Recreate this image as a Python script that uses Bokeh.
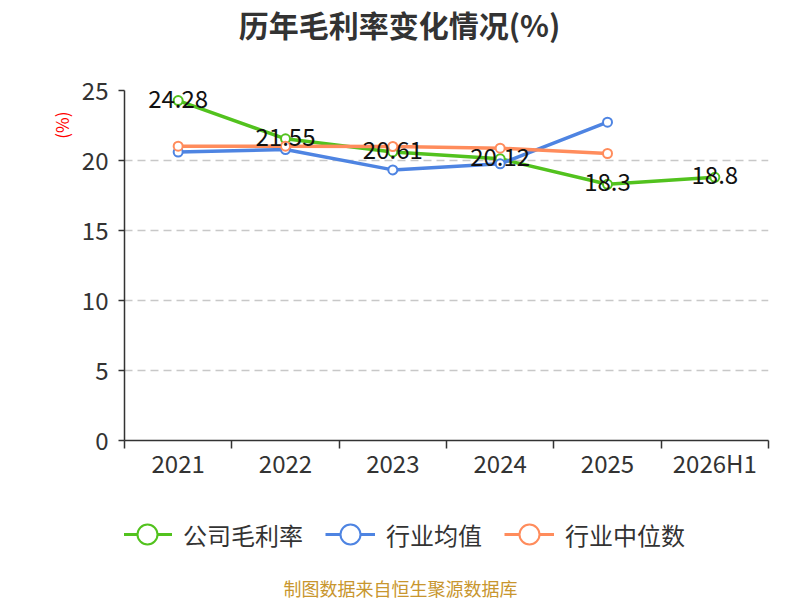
import math
from bokeh.plotting import figure
from bokeh.layouts import column
from bokeh.models import (ColumnDataSource, FixedTicker, Label, Legend, LegendItem, Title)
from bokeh.core.properties import value
from bokeh.embed import file_html
from bokeh.resources import INLINE

# ---- data ----
years = ["2021", "2022", "2023", "2024", "2025", "2026H1"]
company = [24.28, 21.55, 20.61, 20.12, 18.3, 18.8]
industry_avg = [20.6, 20.78, 19.33, 19.76, 22.74]
industry_median = [21.02, 21.02, 21.0, 20.88, 20.5]
series_names = ["公司毛利率", "行业均值", "行业中位数"]
title_text = "历年毛利率变化情况(%)"
unit_text = "(%)"
footer_text = "制图数据来自恒生聚源数据库"
y_ticks = [0, 5, 10, 15, 20, 25]

FONT = "Noto Sans CJK SC"
GREEN = "#52C21E"
BLUE = "#4E84E2"
ORANGE = "#FF8C5C"
COLORS = [GREEN, BLUE, ORANGE]
W = 796
FRAME_LEFT = 124  # frames of the stacked figures are aligned with the main chart's frame


def blank_fig(h):
    f = figure(width=W, height=h, x_range=(0, 1), y_range=(0, 1),
               output_backend="svg", toolbar_location=None,
               x_axis_location=None, y_axis_location=None,
               min_border_left=0, min_border_right=0, min_border_top=0, min_border_bottom=0)
    f.outline_line_color = None
    f.xgrid.visible = False
    f.ygrid.visible = False
    return f


# ---- title strip ----
top = blank_fig(70)
top.add_layout(Label(x=399 - FRAME_LEFT, y=47, x_units="screen", y_units="screen", text=title_text,
                     text_font=FONT, text_font_size="30px", text_font_style="bold",
                     text_color="#333333", text_align="center", text_baseline="middle"))

# ---- main chart ----
xs = [i + 0.5 for i in range(len(years))]

p = figure(width=W, height=430, x_range=(0, len(years)), y_range=(0, 25),
           output_backend="svg", toolbar_location=None,
           min_border_left=FRAME_LEFT, min_border_right=28, min_border_top=20, min_border_bottom=60)
p.outline_line_color = None

xa = p.xaxis[0]
xa.ticker = FixedTicker(ticks=xs, minor_ticks=list(range(len(years) + 1)))
xa.major_label_overrides = {x: y for x, y in zip(xs, years)}
xa.major_tick_line_color = None
xa.major_tick_out = 0
xa.major_tick_in = 0
xa.minor_tick_line_color = "#333333"
xa.minor_tick_line_width = 1.5
xa.minor_tick_out = 8
xa.minor_tick_in = 0
xa.axis_line_color = "#333333"
xa.axis_line_width = 1.5
xa.major_label_text_font = FONT
xa.major_label_text_font_size = "24px"
xa.major_label_text_color = "#333333"
xa.major_label_standoff = -4

ya = p.yaxis[0]
ya.ticker = FixedTicker(ticks=y_ticks)
ya.minor_tick_line_color = None
ya.major_tick_out = 6
ya.major_tick_in = 0
ya.major_tick_line_color = "#333333"
ya.major_tick_line_width = 1.5
ya.axis_line_color = "#333333"
ya.axis_line_width = 1.5
ya.major_label_text_font = FONT
ya.major_label_text_font_size = "24px"
ya.major_label_text_color = "#333333"
ya.major_label_standoff = 10

p.xgrid.grid_line_color = None
p.ygrid.ticker = FixedTicker(ticks=y_ticks[1:])
p.ygrid.grid_line_color = "#c8c8c8"
p.ygrid.grid_line_dash = "8 5"
p.ygrid.grid_line_width = 1.5

for vals, color in zip([company, industry_avg, industry_median], COLORS):
    src = ColumnDataSource(dict(x=xs[:len(vals)], y=vals))
    p.line("x", "y", source=src, line_color=color, line_width=3.5)
    p.scatter("x", "y", source=src, size=9, fill_color="white",
              line_color=color, line_width=2)

lab_src = ColumnDataSource(dict(x=xs[:len(company)], y=company,
                                t=[str(v) for v in company]))
p.text("x", "y", text="t", source=lab_src, text_font=value(FONT),
       text_font_size="24px", text_color="#111111", text_align="center",
       text_baseline="middle", y_offset=-2)

p.add_layout(Title(text=unit_text, align="right", offset=21, standoff=10,
                   text_font=FONT, text_font_size="17px", text_font_style="normal",
                   text_color="red"), "left")

# ---- legend + footer strip ----
bot = blank_fig(100)
items = []
for name, color in zip(series_names, COLORS):
    # legend-only renderers, their points lie outside the visible range
    ln = bot.line(x=[5, 6], y=[5, 6], line_color=color, line_width=3)
    sc = bot.scatter(x=[5], y=[5], size=9, fill_color="white", line_color=color, line_width=2)
    items.append(LegendItem(label=name, renderers=[ln, sc]))
legend = Legend(items=items, orientation="horizontal", location=(-2, 40),
                glyph_width=50, glyph_height=52, label_standoff=11, spacing=22,
                padding=0, margin=0, border_line_color=None,
                background_fill_alpha=0,
                label_text_font=FONT, label_text_font_size="24px",
                label_text_color="#333333")
bot.add_layout(legend, "center")
bot.add_layout(Label(x=400 - FRAME_LEFT, y=13, x_units="screen", y_units="screen", text=footer_text,
                     text_font=FONT, text_font_size="18px", text_color="#C8962E",
                     text_align="center", text_baseline="middle"))

layout = column(top, p, bot, spacing=0)
open("out.html", "w").write(file_html(layout, INLINE))
